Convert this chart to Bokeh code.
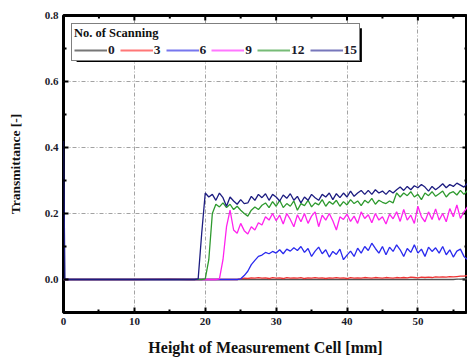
import math
from bokeh.plotting import figure
from bokeh.models import (Range1d, FixedTicker, Legend, LegendItem,
                          BoxAnnotation, PrintfTickFormatter)
from bokeh.embed import file_html
from bokeh.resources import INLINE

# ---------------- data ----------------
HEIGHT_PREFIX = [0.0, 0.2, 5.0, 10.0, 15.0, 17.5]
HEIGHT_MAIN = [
    18.0, 18.5, 19.0, 19.5, 20.0, 20.5, 21.0, 21.5, 22.0, 22.5,
    23.0, 23.5, 24.0, 24.5, 25.0, 25.5, 26.0, 26.5, 27.0, 27.5,
    28.0, 28.5, 29.0, 29.5, 30.0, 30.5, 31.0, 31.5, 32.0, 32.5,
    33.0, 33.5, 34.0, 34.5, 35.0, 35.5, 36.0, 36.5, 37.0, 37.5,
    38.0, 38.5, 39.0, 39.5, 40.0, 40.5, 41.0, 41.5, 42.0, 42.5,
    43.0, 43.5, 44.0, 44.5, 45.0, 45.5, 46.0, 46.5, 47.0, 47.5,
    48.0, 48.5, 49.0, 49.5, 50.0, 50.5, 51.0, 51.5, 52.0, 52.5,
    53.0, 53.5, 54.0, 54.5, 55.0, 55.5, 56.0, 56.5, 57.0,
]
HEIGHT = HEIGHT_PREFIX + HEIGHT_MAIN

scan_0 = [0.0] * 6 + [
    0, 0, 0, 0, 0, 0, 0, 0, 0, 0,
    0, 0, 0, 0, 0, 0, 0, 0, 0, 0,
    0, 0, 0, 0, 0, 0, 0, 0, 0, 0,
    0, 0, 0, 0, 0, 0, 0, 0, 0, 0,
    0, 0, 0, 0, 0, 0, 0, 0, 0, 0,
    0, 0, 0, 0, 0, 0, 0, 0, 0, 0,
    0, 0, 0, 0, 0, 0, 0, 0, 0, 0,
    0, 0, 0, 0, 0, 0.001, 0.001, 0.002, 0.002,
]
scan_3 = [0.0, 0.0, 0.0, 0.0, 0.001, 0.0] + [
    0, 0, 0, 0, 0, 0, 0, 0, 0, 0,
    0, 0, 0, 0, 0.002, 0.004, 0.003, 0.005, 0.004, 0.006,
    0.004, 0.005, 0.003, 0.006, 0.004, 0.005, 0.003, 0.006, 0.004, 0.005,
    0.004, 0.006, 0.003, 0.005, 0.004, 0.006, 0.004, 0.005, 0.003, 0.005,
    0.004, 0.006, 0.004, 0.005, 0.003, 0.006, 0.004, 0.005, 0.004, 0.006,
    0.005, 0.004, 0.006, 0.005, 0.004, 0.006, 0.005, 0.004, 0.006, 0.005,
    0.006, 0.005, 0.007, 0.006, 0.005, 0.007, 0.006, 0.007, 0.006, 0.008,
    0.007, 0.008, 0.007, 0.009, 0.008, 0.009, 0.010, 0.010, 0.012,
]
scan_6 = [0.0] * 6 + [
    0, 0, 0, 0, 0, 0, 0, 0, 0, 0,
    0, 0, 0, 0, 0.002, 0.012, 0.025, 0.045, 0.058, 0.070,
    0.074, 0.082, 0.078, 0.085, 0.080, 0.090, 0.078, 0.092, 0.086, 0.096,
    0.088, 0.100, 0.082, 0.094, 0.070, 0.086, 0.098, 0.078, 0.090, 0.068,
    0.085, 0.076, 0.092, 0.060, 0.074, 0.086, 0.070, 0.095, 0.080, 0.100,
    0.088, 0.110, 0.094, 0.080, 0.100, 0.075, 0.098, 0.085, 0.105, 0.090,
    0.070, 0.094, 0.082, 0.105, 0.080, 0.092, 0.070, 0.098, 0.085, 0.096,
    0.080, 0.100, 0.075, 0.090, 0.068, 0.086, 0.092, 0.070, 0.060,
]
scan_9 = [0.0] * 6 + [
    0, 0, 0, 0, 0, 0, 0, 0, 0.002, 0.060,
    0.160, 0.210, 0.150, 0.140, 0.170, 0.148, 0.138, 0.160, 0.150, 0.172,
    0.165, 0.190, 0.180, 0.200, 0.178, 0.195, 0.168, 0.200, 0.182, 0.160,
    0.196, 0.175, 0.200, 0.170, 0.192, 0.205, 0.160, 0.195, 0.180, 0.200,
    0.178, 0.150, 0.190, 0.182, 0.198, 0.176, 0.192, 0.170, 0.205, 0.185,
    0.196, 0.172, 0.200, 0.180, 0.190, 0.168, 0.198, 0.184, 0.205, 0.176,
    0.212, 0.180, 0.195, 0.170, 0.222, 0.190, 0.175, 0.205, 0.182, 0.214,
    0.180, 0.200, 0.175, 0.215, 0.190, 0.226, 0.185, 0.205, 0.220,
]
scan_12 = [0.0] * 6 + [
    0, 0, 0, 0, 0.002, 0.060, 0.200, 0.228, 0.220, 0.232,
    0.218, 0.228, 0.212, 0.222, 0.210, 0.200, 0.192, 0.210, 0.220, 0.212,
    0.225, 0.232, 0.218, 0.236, 0.222, 0.240, 0.218, 0.230, 0.222, 0.238,
    0.210, 0.230, 0.224, 0.240, 0.220, 0.232, 0.226, 0.242, 0.222, 0.236,
    0.228, 0.240, 0.222, 0.236, 0.226, 0.242, 0.230, 0.238, 0.224, 0.240,
    0.232, 0.246, 0.228, 0.240, 0.234, 0.230, 0.238, 0.232, 0.262, 0.250,
    0.262, 0.254, 0.266, 0.250, 0.258, 0.242, 0.262, 0.254, 0.266, 0.252,
    0.260, 0.268, 0.250, 0.262, 0.266, 0.256, 0.270, 0.258, 0.270,
]
scan_15 = [0.42, 0.0, 0.0, 0.0, 0.0, 0.0] + [
    0.000, 0.000, 0.002, 0.140, 0.262, 0.250, 0.258, 0.240, 0.262, 0.248,
    0.222, 0.250, 0.238, 0.228, 0.242, 0.230, 0.232, 0.252, 0.240, 0.258,
    0.248, 0.260, 0.240, 0.258, 0.250, 0.238, 0.256, 0.246, 0.260, 0.240,
    0.252, 0.232, 0.250, 0.240, 0.258, 0.248, 0.240, 0.258, 0.250, 0.262,
    0.242, 0.260, 0.248, 0.262, 0.250, 0.268, 0.252, 0.262, 0.270, 0.258,
    0.270, 0.258, 0.272, 0.262, 0.268, 0.258, 0.270, 0.262, 0.272, 0.280,
    0.270, 0.282, 0.272, 0.284, 0.278, 0.288, 0.280, 0.268, 0.282, 0.272,
    0.280, 0.290, 0.278, 0.288, 0.282, 0.292, 0.286, 0.280, 0.292,
]

SERIES_LABELS = ["0", "3", "6", "9", "12", "15"]
SERIES = [scan_0, scan_3, scan_6, scan_9, scan_12, scan_15]
COLORS = ["#555555", "#ee3333", "#2a2aee", "#ff22ee", "#2e9a2e", "#1c1c80"]
LEGEND_COLORS = ["#777777", "#ff7777", "#7777ee", "#ff77ff", "#77bb77", "#7777bb"]

X_MAJOR = [0, 10, 20, 30, 40, 50]
X_MINOR = [5, 15, 25, 35, 45, 55]
Y_MAJOR = [0.0, 0.2, 0.4, 0.6, 0.8]
Y_MINOR = [-0.1, 0.1, 0.3, 0.5, 0.7]
X_MAX = 57
Y_MIN, Y_MAX = -0.1, 0.8

FONT = "Liberation Serif"

# ---------------- figure ----------------
p = figure(width=467, height=361, output_backend="svg", toolbar_location=None,
           x_range=Range1d(0, X_MAX), y_range=Range1d(Y_MIN, Y_MAX),
           min_border_left=63, min_border_right=0, min_border_top=15,
           min_border_bottom=49)
p.background_fill_color = "white"
p.border_fill_color = "white"
p.outline_line_color = "black"
p.outline_line_width = 3

for g in (p.xgrid[0], p.ygrid[0]):
    g.grid_line_color = "#8a8a8a"
    g.grid_line_dash = "4 2 1 2"
    g.grid_line_width = 0.8
p.xgrid[0].ticker = FixedTicker(ticks=X_MAJOR[1:])
p.ygrid[0].ticker = FixedTicker(ticks=Y_MAJOR[:-1])

def style_axis(ax, ticks, minor):
    ax.ticker = FixedTicker(ticks=ticks, minor_ticks=minor)
    ax.major_tick_in = 5
    ax.major_tick_out = 0
    ax.minor_tick_in = 3
    ax.minor_tick_out = 0
    ax.major_tick_line_width = 2
    ax.minor_tick_line_width = 2
    ax.axis_line_color = None
    ax.major_label_text_font = FONT
    ax.major_label_text_font_style = "bold"
    ax.major_label_text_font_size = "11px"
    ax.major_label_text_color = "#1a1a2a"
    ax.axis_label_text_font = FONT
    ax.axis_label_text_font_style = "bold"
    ax.axis_label_text_color = "#111111"

xa = p.xaxis[0]
style_axis(xa, X_MAJOR, X_MINOR)
xa.axis_label = "Height of Measurement Cell [mm]"
xa.axis_label_text_font_size = "16px"
xa.major_label_standoff = 5
xa.axis_label_standoff = 11

ya = p.yaxis[0]
style_axis(ya, Y_MAJOR, Y_MINOR)
ya.axis_label = "Transmittance [-]"
ya.axis_label_text_font_size = "13.5px"
ya.formatter = PrintfTickFormatter(format="%.1f")
ya.major_label_standoff = 5
ya.axis_label_standoff = 19

# mirrored inward ticks on the top and right edges (screen-length rays)
p.ray(x=X_MAJOR[1:], y=[Y_MAX] * 5, length=5, angle=-math.pi / 2,
      length_units="screen", line_color="black", line_width=2)
p.ray(x=X_MINOR, y=[Y_MAX] * 6, length=3, angle=-math.pi / 2,
      length_units="screen", line_color="black", line_width=2)
p.ray(x=[X_MAX] * 4, y=Y_MAJOR[:-1], length=5, angle=math.pi,
      length_units="screen", line_color="black", line_width=2)
p.ray(x=[X_MAX] * 5, y=Y_MINOR, length=3, angle=math.pi,
      length_units="screen", line_color="black", line_width=2)

# legend shadow (offset a few pixels right/down from the legend box)
shadow = BoxAnnotation(left=1.85, right=42.1, top=0.761, bottom=0.659,
                       fill_color="black", fill_alpha=1.0, line_color=None)
p.add_layout(shadow)

for lab, ys, col in zip(SERIES_LABELS, SERIES, COLORS):
    p.line(HEIGHT, ys, line_color=col, line_width=1.3)

legend_items = []
for lab, lcol in zip(SERIES_LABELS, LEGEND_COLORS):
    r = p.line(HEIGHT[:1], [0.0], line_color=lcol, line_width=1.8)
    legend_items.append(LegendItem(label=lab, renderers=[r]))

legend = Legend(items=legend_items, orientation="horizontal", location="top_left",
                title="No. of Scanning")
legend.margin = 8
legend.padding = 2
legend.spacing = 5
legend.glyph_width = 33
legend.glyph_height = 8
legend.label_height = 8
legend.label_width = 6
legend.label_standoff = 1
legend.title_standoff = 1
legend.label_text_font = FONT
legend.label_text_font_style = "bold"
legend.label_text_font_size = "13.5px"
legend.label_text_color = "#1a1a2a"
legend.title_text_font = FONT
legend.title_text_font_style = "bold"
legend.title_text_font_size = "12.5px"
legend.title_text_color = "#111111"
legend.border_line_color = "black"
legend.border_line_width = 1.5
legend.background_fill_color = "white"
legend.background_fill_alpha = 1.0
p.add_layout(legend)

open("out.html", "w").write(file_html(p, INLINE))
